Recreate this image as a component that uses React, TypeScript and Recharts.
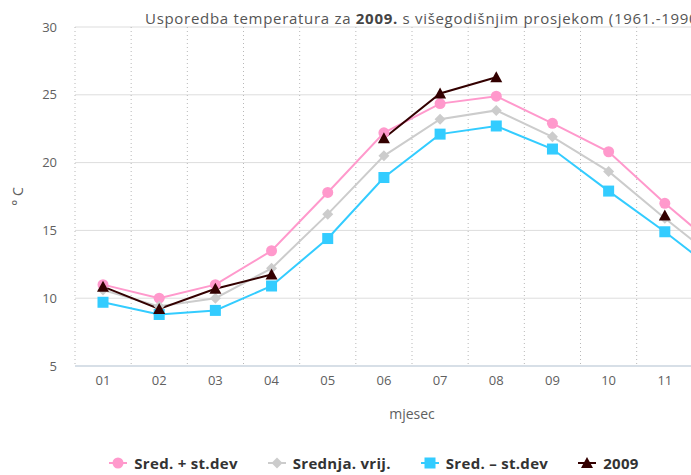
import { LineChart, Line, XAxis, YAxis, CartesianGrid, Legend } from "recharts";

const months = ["01", "02", "03", "04", "05", "06", "07", "08", "09", "10", "11", "12"];
const sredPlus = [11.0, 10.0, 11.0, 13.5, 17.8, 22.2, 24.35, 24.9, 22.9, 20.8, 17.0, 13.5];
const srednja = [10.6, 9.4, 10.0, 12.2, 16.2, 20.5, 23.2, 23.85, 21.9, 19.35, 15.9, 12.6];
const sredMinus = [9.7, 8.8, 9.1, 10.9, 14.4, 18.9, 22.1, 22.7, 21.0, 17.9, 14.9, 11.7];
const y2009 = [10.85, 9.2, 10.7, 11.75, null, 21.8, 25.1, 26.3, null, null, 16.1, null];
const yTicks = [5, 10, 15, 20, 25, 30];

const data = months.map((m, i) => ({
  month: m,
  plus: sredPlus[i],
  mean: srednja[i],
  minus: sredMinus[i],
  y2009: y2009[i],
}));

const FONT = "'Open Sans', 'DejaVu Sans', sans-serif";

type Shape = "circle" | "diamond" | "square" | "triangle";

const series: { key: string; name: string; color: string; shape: Shape }[] = [
  { key: "plus", name: "Sred. + st.dev", color: "#ff99cc", shape: "circle" },
  { key: "mean", name: "Srednja. vrij.", color: "#cccccc", shape: "diamond" },
  { key: "minus", name: "Sred. – st.dev", color: "#33ccff", shape: "square" },
  { key: "y2009", name: "2009", color: "#330000", shape: "triangle" },
];

function marker(shape: Shape, cx: number, cy: number, color: string, key?: string) {
  if (shape === "circle") return <circle key={key} cx={cx} cy={cy} r={5.5} fill={color} />;
  if (shape === "diamond")
    return <path key={key} d={`M${cx},${cy - 5.5}L${cx + 5.5},${cy}L${cx},${cy + 5.5}L${cx - 5.5},${cy}Z`} fill={color} />;
  if (shape === "square") return <rect key={key} x={cx - 5.5} y={cy - 5.5} width={11} height={11} fill={color} />;
  return <path key={key} d={`M${cx},${cy - 6}L${cx + 6},${cy + 5}L${cx - 6},${cy + 5}Z`} fill={color} />;
}

const makeDot = (shape: Shape, color: string) => (props: any) => {
  const { cx, cy, index, value } = props;
  if (cx == null || cy == null || value == null) return <g key={`d-${index}`} />;
  return marker(shape, cx, cy, color, `d-${index}`);
};

function renderLegend() {
  return (
    <div
      style={{
        display: "flex",
        justifyContent: "center",
        gap: 30,
        height: 24,
        alignItems: "center",
        fontFamily: FONT,
        fontSize: 15,
        fontWeight: 700,
        letterSpacing: 0.3,
        color: "#333",
      }}
    >
      {series.map((s) => (
        <div key={s.key} style={{ display: "flex", alignItems: "center" }}>
          <svg width={18} height={14} style={{ marginRight: 7 }}>
            <line x1={0} y1={7} x2={18} y2={7} stroke={s.color} strokeWidth={2} />
            {marker(s.shape, 9, 7, s.color)}
          </svg>
          <span>{s.name}</span>
        </div>
      ))}
    </div>
  );
}

export default function App() {
  return (
    <div
      style={{
        position: "absolute",
        left: 0,
        top: 0,
        width: 691,
        height: 475,
        overflow: "hidden",
        background: "#fff",
      }}
    >
      <div
        style={{
          position: "absolute",
          left: 145,
          top: 8,
          whiteSpace: "nowrap",
          fontFamily: FONT,
          fontSize: 15,
          letterSpacing: 0.7,
          lineHeight: "20px",
          color: "#555",
          zIndex: 2,
        }}
      >
        Usporedba temperatura za <b style={{ color: "#444" }}>2009.</b> s višegodišnjim prosjekom (1961.-1990.)
      </div>
      <LineChart
        width={770}
        height={475}
        data={data}
        margin={{ top: 27, right: 21, left: 0, bottom: 25 }}
      >
        <CartesianGrid horizontal={true} vertical={false} stroke="#dddddd" />
        <CartesianGrid
          horizontal={false}
          vertical={true}
          stroke="#b8b8b8"
          strokeDasharray="1 3"
          verticalCoordinatesGenerator={({ offset }: any) =>
            months.map((_, i) => offset.left + (i * offset.width) / months.length)
          }
        />
        <XAxis
          dataKey="month"
          height={60}
          padding={{ left: 28, right: 28 }}
          axisLine={{ stroke: "#c0d0e0" }}
          tickLine={false}
          tickSize={4}
          tickMargin={6}
          tick={{ fill: "#606060", fontSize: 13, fontFamily: FONT }}
          label={{
            value: "mjesec",
            position: "insideBottom",
            offset: 7,
            fill: "#606060",
            fontSize: 14,
            fontFamily: FONT,
          }}
        />
        <YAxis
          width={75}
          domain={[5, 30]}
          ticks={yTicks}
          axisLine={false}
          tickLine={false}
          tickSize={8}
          tickMargin={10}
          tick={{ fill: "#606060", fontSize: 13, fontFamily: FONT }}
          label={{
            value: "° C",
            angle: -90,
            position: "insideLeft",
            offset: 18,
            fill: "#606060",
            fontSize: 14,
            fontFamily: FONT,
            style: { textAnchor: "middle" },
          }}
        />
        <Legend verticalAlign="bottom" content={renderLegend} wrapperStyle={{ top: 451, left: 0, width: 748 }} />
        {series.map((s) => (
          <Line
            key={s.key}
            dataKey={s.key}
            name={s.name}
            stroke={s.color}
            strokeWidth={2}
            dot={makeDot(s.shape, s.color)}
            activeDot={false}
            isAnimationActive={false}
          />
        ))}
      </LineChart>
    </div>
  );
}
